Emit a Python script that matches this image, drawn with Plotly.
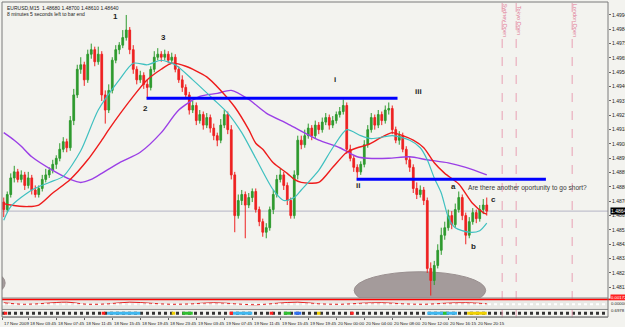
import plotly.graph_objects as go

# ---------------- data (prices in pips above BASE) ----------------
BASE = 1.4800
PIP = 0.0001

open_pips = [70,65,75,86,90,85,88,81,86,78,
             75,79,85,88,91,95,99,105,110,106,
             124,141,158,161,151,168,171,163,168,141,
             131,144,164,171,174,179,184,171,158,151,
             154,148,146,158,166,168,166,168,164,166,
             158,151,146,141,131,134,124,128,121,126,
             119,114,111,121,128,118,88,61,71,75,
             68,73,77,65,57,50,53,65,75,85,
             88,81,71,61,88,111,108,114,119,114,
             121,118,123,126,121,124,128,130,134,105,
             99,93,90,95,108,118,126,121,128,124,
             131,132,118,111,114,105,98,93,79,75,
             78,71,26,18,28,38,48,53,61,55,
             65,73,61,48,57,63,59,65,68]
high_pips = [73,77,89,94,92,91,90,90,88,81,
             81,88,92,93,98,101,109,113,112,127,
             145,161,166,163,171,175,173,173,170,144,
             148,166,174,176,184,194,186,174,160,157,
             156,151,160,170,172,170,171,170,169,168,
             160,154,148,143,137,136,131,130,129,128,
             122,116,125,131,130,121,90,75,78,77,
             76,79,79,67,59,56,67,78,88,92,
             90,83,73,91,114,114,118,122,121,124,
             123,126,129,128,127,130,133,138,136,108,
             101,95,97,111,121,129,128,131,130,134,
             136,134,120,117,116,107,100,95,83,81,
             80,73,30,31,42,53,57,65,64,69,
             77,75,63,60,66,65,68,72,73]
low_pips = [60,63,73,83,83,83,78,79,75,73,
            73,77,83,86,89,92,97,103,103,104,
            121,139,155,147,149,165,160,161,137,122,
            129,142,162,168,172,177,168,155,148,149,
            145,139,144,156,164,163,164,162,162,156,
            149,143,139,128,129,121,122,118,119,116,
            111,107,109,119,115,85,50,59,68,46,
            66,70,63,54,47,46,51,62,73,83,
            78,68,59,59,85,105,106,112,111,112,
            115,116,121,118,119,122,126,128,102,97,
            90,86,88,93,106,116,118,119,121,122,
            128,115,109,108,103,95,90,76,72,73,
            68,23,8,15,26,35,45,51,52,53,
            63,58,42,46,55,56,57,62,61]
close_pips = [65,75,86,90,85,88,81,86,78,75,
              79,85,88,91,95,99,105,110,106,124,
              141,158,161,151,168,171,163,168,141,131,
              144,164,171,174,179,184,171,158,151,154,
              148,146,158,166,168,166,168,164,166,158,
              151,146,141,131,134,124,128,121,126,119,
              114,111,121,128,118,88,61,71,75,68,
              73,77,65,57,50,53,65,75,85,88,
              81,71,61,88,111,108,114,119,114,121,
              118,123,126,121,124,128,130,134,105,99,
              93,90,95,108,118,126,121,128,124,131,
              132,118,111,114,105,98,93,79,75,78,
              71,26,18,28,38,48,53,61,55,65,
              73,61,48,57,63,59,65,68,64]

# moving averages (bar index, pips)
ma_fast_bars = [0,2,8,13,17,22,27,33,37,41,45,49,54,60,64,68,72,77,80,83,
                85,90,94,98,102,105,111,116,119,121,123,125,127,129,133,136,138]
ma_fast_pips = [58,67,78,83,87,104,131,151,162,161,164,161,151,138,129,116,99,78,71,73,
                78,91,106,118,114,112,114,111,106,98,86,76,60,53,50,51,56]
ma_mid_bars = [0,2,7,10,14,19,24,28,30,37,41,45,48,52,58,62,66,70,72,74,
               77,81,83,85,90,94,98,101,104,108,111,114,117,120,123,126,130,134,137,138]
ma_mid_pips = [69,68,67,68,76,85,98,111,118,140,151,158,162,160,153,144,133,118,109,105,
               96,89,85,83,83,93,103,106,108,113,116,114,111,106,96,89,82,69,63,62]
ma_slow_bars = [0,3,5,8,14,19,22,25,28,33,39,45,50,56,61,65,70,75,81,85,
                90,96,101,104,110,116,121,127,132,138]
ma_slow_pips = [116,111,107,100,91,85,83,85,89,96,103,116,131,140,142,144,138,129,122,117,
                111,106,100,99,99,100,98,96,93,88]

# oscillator panel
osc_bars = [0,6,12,18,24,30,36,42,48,54,60,66,72,78,84,90,96,102,108,114,120,126,132,138]
osc_vals = [6,4.5,5.5,6.5,4.5,5,6.5,5.5,4.5,5,6,5,4,5.5,6.5,5,4.5,5.5,6,5,4.5,5.5,6,5]

# colour strip panel
seg_start = [0, 28, 29.5, 48, 51, 64.5, 65.5, 76, 80, 83, 89.5, 99, 121, 125.5, 132.4]
seg_end = [1, 29, 39, 49, 54, 65.5, 71, 77, 82, 85, 90.5, 100, 129.5, 126.5, 138]
seg_color = ['#ff2020', '#ff2020', '#40b8f0', '#f0d000', '#30c030', '#ff2020', '#40b8f0',
             '#ff2020', '#30c030', '#3070f0', '#f0d000', '#ff2020', '#40b8f0', '#30c030', '#f0d000']

# levels
level_prices = [1.49388, 1.48851]
level_start = [40.8, 100.8]
level_end = [112.5, 154.9]

wave_labels = ["1", "2", "3", "i", "ii", "iii", "a", "b", "c"]
wave_bars = [31.8, 40.6, 45.5, 94.6, 101.2, 118.4, 128.4, 134.1, 139.8]
wave_prices = [1.49927, 1.49323, 1.49788, 1.49510, 1.48813, 1.49430, 1.48800, 1.48405, 1.48720]

session_names = ["Sydney Open", "Tokyo Open", "London Open"]
session_bars = [142.4, 146.4, 162.4]

time_labels = ["17 Nov 2009", "18 Nov 03:45", "18 Nov 07:45", "18 Nov 11:45", "18 Nov 15:45",
               "18 Nov 19:45", "18 Nov 23:45", "19 Nov 03:45", "19 Nov 07:45", "19 Nov 11:45",
               "19 Nov 15:45", "19 Nov 19:45", "20 Nov 00:00", "20 Nov 04:00", "20 Nov 08:00",
               "20 Nov 12:00", "20 Nov 16:15", "20 Nov 20:15"]
time_label_bars = [-0.5, 7, 15, 23, 31, 39, 47, 55, 63, 71, 79, 87, 95, 103, 111, 119, 127, 135]

price_ticks = ["1.49940", "1.49845", "1.49750", "1.49655", "1.49560", "1.49465", "1.49370",
               "1.49275", "1.49180", "1.49085", "1.48990", "1.48895", "1.48800", "1.48705",
               "1.48610", "1.48515", "1.48420", "1.48325", "1.48230", "1.48135"]

current_price = 1.48640

# ---------------- figure ----------------
def px(v):
    return [BASE + p * PIP for p in v]

bars = list(range(len(close_pips)))
X_RANGE = [-0.5, 172.64]
Y_RANGE = [1.48064, 1.50026]

fig = go.Figure()

fig.add_trace(go.Candlestick(
    x=bars, open=px(open_pips), high=px(high_pips), low=px(low_pips), close=px(close_pips),
    increasing=dict(line=dict(color='#2f9a2f', width=1), fillcolor='#2f9a2f'),
    decreasing=dict(line=dict(color='#ee2222', width=1), fillcolor='#ee2222'),
    whiskerwidth=0, hoverinfo='skip', xaxis='x', yaxis='y'))

for bx, vy, col, w in [(ma_slow_bars, ma_slow_pips, '#9b3fe6', 1.4),
                       (ma_mid_bars, ma_mid_pips, '#ee1c1c', 1.4),
                       (ma_fast_bars, ma_fast_pips, '#3fc0c0', 1.2)]:
    fig.add_trace(go.Scatter(x=bx, y=px(vy), mode='lines',
                             line=dict(color=col, width=w, shape='spline', smoothing=0.7),
                             hoverinfo='skip', xaxis='x', yaxis='y'))

for lp, ls, le in zip(level_prices, level_start, level_end):
    fig.add_trace(go.Scatter(x=[ls, le], y=[lp, lp], mode='lines',
                             line=dict(color='#0000ff', width=3), hoverinfo='skip',
                             xaxis='x', yaxis='y'))

# oscillator panel
fig.add_trace(go.Scatter(x=osc_bars, y=osc_vals, mode='lines',
                         line=dict(color='#e82020', width=1, shape='spline'),
                         hoverinfo='skip', xaxis='x', yaxis='y2'))

# colour strip
fig.add_trace(go.Scatter(x=[X_RANGE[0], X_RANGE[1]], y=[5, 5], mode='lines',
                         line=dict(color='#333333', width=3, dash='dot'),
                         hoverinfo='skip', xaxis='x', yaxis='y3'))
for s, e, c in zip(seg_start, seg_end, seg_color):
    fig.add_trace(go.Scatter(x=[s, e], y=[5, 5], mode='lines', line=dict(color=c, width=3),
                             hoverinfo='skip', xaxis='x', yaxis='y3'))

shapes = []
# ellipses
shapes.append(dict(type='circle', xref='x', yref='y', x0=100.1, x1=137.7,
                   y0=BASE - 0.9 * PIP, y1=BASE + 23.8 * PIP,
                   fillcolor='#a49b9b', line=dict(color='#9a9090', width=1), layer='below'))
shapes.append(dict(type='circle', xref='x', yref='y', x0=-5.4, x1=0.4,
                   y0=BASE + 10.3 * PIP, y1=BASE + 22.3 * PIP,
                   fillcolor='#a49b9b', line=dict(color='#9a9090', width=1), layer='below'))
# current price line
shapes.append(dict(type='line', xref='paper', yref='y', x0=0, x1=1, y0=current_price,
                   y1=current_price, line=dict(color='#b4b4c4', width=1), layer='below'))
# session lines
for sb in session_bars:
    shapes.append(dict(type='line', xref='x', yref='paper', x0=sb, x1=sb, y0=0, y1=1,
                       line=dict(color='#e8a0b4', width=1, dash='dash')))
# panel 1 decorations
shapes.append(dict(type='rect', xref='paper', yref='paper', x0=0, x1=1, y0=0.027, y1=0.0633,
                   fillcolor='#e9e9e5', line=dict(width=0), layer='below'))
shapes.append(dict(type='line', xref='paper', yref='y2', x0=0, x1=1.03, y0=9.3, y1=9.3,
                   line=dict(color='#ff0000', width=2)))
shapes.append(dict(type='line', xref='paper', yref='y2', x0=0, x1=1, y0=4.5, y1=4.5,
                   line=dict(color='#ffffff', width=2, dash='dot')))
# borders / separators
for yy in [0.0633, 0.027, 0.003]:
    shapes.append(dict(type='line', xref='paper', yref='paper', x0=0, x1=1, y0=yy, y1=yy,
                       line=dict(color='#8a8a8a', width=1)))
shapes.append(dict(type='rect', xref='paper', yref='paper', x0=0, x1=1, y0=0.003, y1=1,
                   line=dict(color='#7a7a7a', width=1)))

ann = []
for t, b, p in zip(wave_labels, wave_bars, wave_prices):
    ann.append(dict(x=b, y=p, xref='x', yref='y', text='<b>%s</b>' % t, showarrow=False,
                    font=dict(size=8, color='#1e1e1e', family='Liberation Sans')))
ann.append(dict(x=132.2, y=1.48793, xref='x', yref='y', xanchor='left',
                text='Are there another oportunity to go short?', showarrow=False,
                font=dict(size=6.6, color='#3a3a3a', family='Liberation Sans')))
for n, sb in zip(session_names, session_bars):
    ann.append(dict(x=sb + 0.9, y=0.943, xref='x', yref='paper', text=n, textangle=90,
                    showarrow=False, xanchor='center', yanchor='middle',
                    font=dict(size=5.5, color='#e07896', family='Liberation Sans')))
for t, b in zip(time_labels, time_label_bars):
    ann.append(dict(x=b, y=0, xref='x', yref='paper', text=t, showarrow=False,
                    xanchor='left', yanchor='top', yshift=-1, xshift=0,
                    font=dict(size=4.4, color='#222222', family='Liberation Sans')))
ann.append(dict(x=0, y=1, xref='paper', yref='paper', xanchor='left', yanchor='top',
                xshift=3, yshift=-1, showarrow=False,
                text='EURUSD,M15  1.48680 1.48700 1.48610 1.48640',
                font=dict(size=5, color='#222222', family='Liberation Sans')))
ann.append(dict(x=0, y=1, xref='paper', yref='paper', xanchor='left', yanchor='top',
                xshift=3, yshift=-7, showarrow=False,
                text='8 minutes 5 seconds left to bar end',
                font=dict(size=5, color='#222222', family='Liberation Sans')))
ann.append(dict(x=1, y=current_price, xref='paper', yref='y', xanchor='left', xshift=2,
                text='1.48640', showarrow=False, bgcolor='#000000', borderpad=0,
                font=dict(size=5, color='#ffffff', family='Liberation Sans')))
for t, yy, bg, fc in [('0.00172', 0.053, '#ff2020', '#ffffff'),
                      ('0.00000', 0.036, '#f3f3ef', '#222222'),
                      ('0.6978', 0.0127, '#f3f3ef', '#222222')]:
    ann.append(dict(x=1, y=yy, xref='paper', yref='paper', xanchor='left', xshift=2,
                    text=t, showarrow=False, bgcolor=bg, borderpad=0,
                    font=dict(size=4.3, color=fc, family='Liberation Sans')))

fig.update_layout(
    width=625, height=327, margin=dict(l=2, r=17, t=2, b=9),
    paper_bgcolor='#f3f3ef', plot_bgcolor='#f3f3ef', showlegend=False,
    font=dict(family='Liberation Sans', size=5, color='#222222'),
    xaxis=dict(range=X_RANGE, anchor='y3', showgrid=False, zeroline=False,
               tickvals=time_label_bars, ticks='outside', ticklen=2, tickcolor='#666',
               showticklabels=False, rangeslider=dict(visible=False), fixedrange=True,
               automargin=False),
    yaxis=dict(domain=[0.0633, 1], range=Y_RANGE, side='right', anchor='x',
               tickvals=[float(t) for t in price_ticks], ticktext=price_ticks,
               ticks='outside', ticklen=2, tickcolor='#666',
               tickfont=dict(size=5, color='#222222'), showgrid=False, zeroline=False,
               automargin=False, fixedrange=True),
    yaxis2=dict(domain=[0.028, 0.062], range=[0, 10], anchor='x', visible=False,
                fixedrange=True),
    yaxis3=dict(domain=[0.004, 0.026], range=[0, 10], anchor='x', visible=False,
                fixedrange=True),
    shapes=shapes, annotations=ann,
)

fig.write_html("out.html")
